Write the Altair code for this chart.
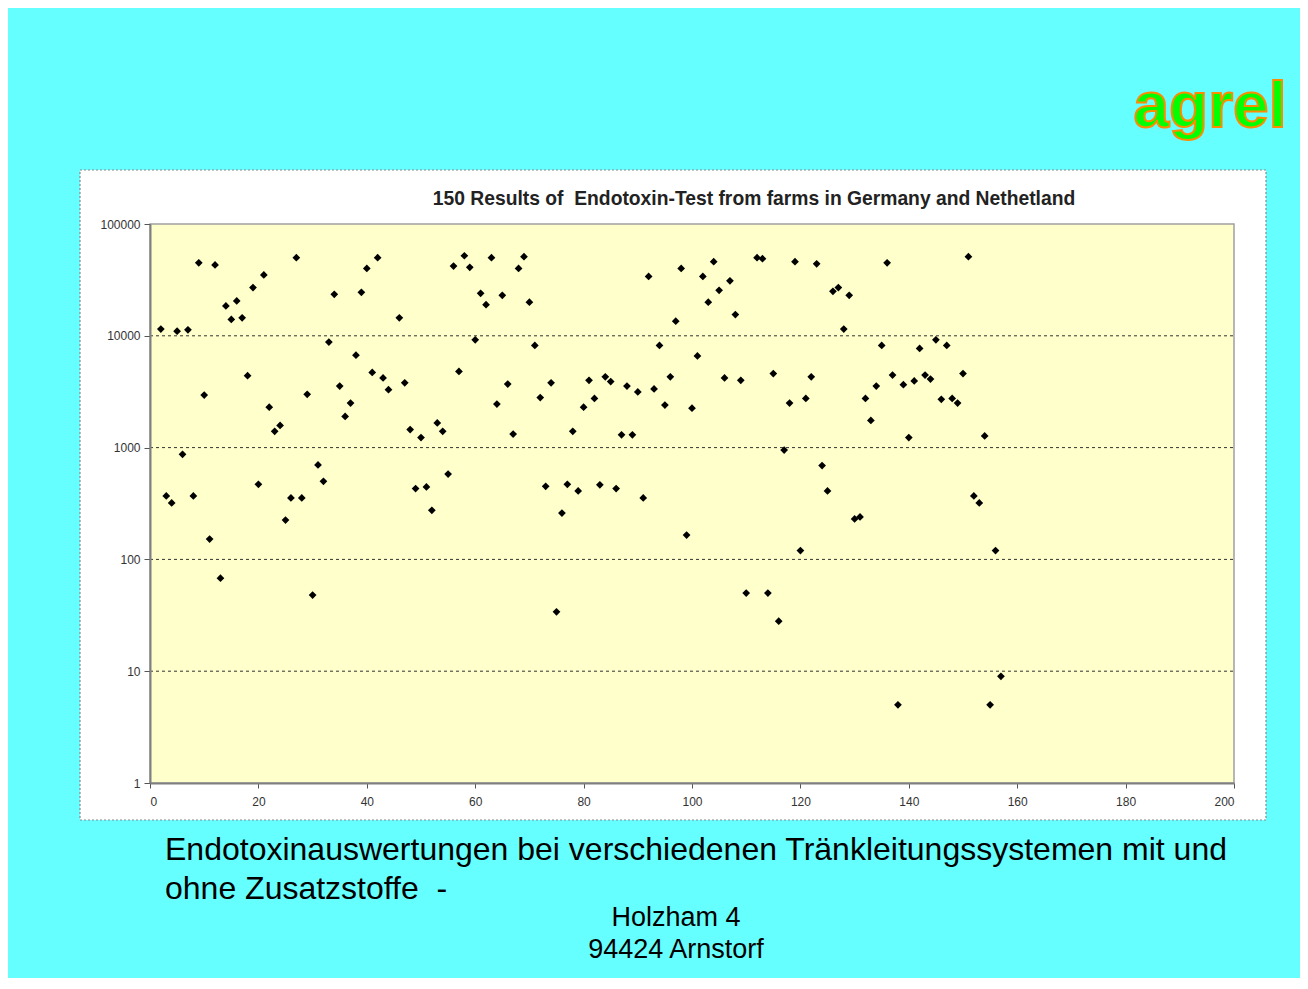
import altair as alt
import pandas as pd

# sample index (x) and endotoxin result (y, log scale)
sample_no = [2, 3, 4, 5, 6, 7, 8, 9, 10, 11, 12, 13, 14, 15, 16, 17, 18, 19, 20, 21,
             22, 23, 24, 25, 26, 27, 28, 29, 30, 31, 32, 33, 34, 35, 36, 37, 38, 39, 40, 41,
             42, 43, 44, 46, 47, 48, 49, 50, 51, 52, 53, 54, 55, 56, 57, 58, 59, 60, 61, 62,
             63, 64, 65, 66, 67, 68, 69, 70, 71, 72, 73, 74, 75, 76, 77, 78, 79, 80, 81, 82,
             83, 84, 85, 86, 87, 88, 89, 90, 91, 92, 93, 94, 95, 96, 97, 98, 99, 100, 101, 102,
             103, 104, 105, 106, 107, 108, 109, 110, 112, 113, 114, 115, 116, 117, 118, 119, 120, 121, 122, 123,
             124, 125, 126, 127, 128, 129, 130, 131, 132, 133, 134, 135, 136, 137, 138, 139, 140, 141, 142, 143,
             144, 145, 146, 147, 148, 149, 150, 151, 152, 153, 154, 155, 156, 157]
endotoxin = [11500, 370, 320, 11000, 870, 11300, 370, 45000, 2950, 152, 43000, 68, 18500, 14000, 20500, 14500, 4400, 27000, 470, 35000,
             2300, 1400, 1580, 225, 355, 50000, 355, 3000, 48, 700, 500, 8800, 23500, 3550, 1900, 2500, 6700, 24500, 40000, 4700,
             50000, 4200, 3300, 14500, 3800, 1450, 430, 1230, 445, 275, 1660, 1400, 580, 42000, 4800, 52000, 41000, 9200, 24000, 19000,
             50000, 2450, 23000, 3700, 1320, 40000, 51000, 20000, 8200, 2800, 450, 3800, 34, 260, 470, 1400, 410, 2300, 4000, 2750,
             465, 4300, 3900, 430, 1300, 3550, 1300, 3150, 355, 34000, 3350, 8200, 2400, 4300, 13500, 40000, 165, 2250, 6600, 34000,
             20000, 46000, 25500, 4200, 31000, 15500, 4000, 50, 50000, 49000, 50, 4600, 28, 950, 2500, 46000, 120, 2750, 4300, 44000,
             690, 410, 25000, 27000, 11500, 23000, 230, 240, 2750, 1750, 3550, 8200, 45000, 4450, 5, 3650, 1230, 3950, 7700, 4450,
             4100, 9200, 2700, 8200, 2750, 2500, 4600, 51000, 370, 320, 1270, 5, 120, 9]

grid_values = [10, 100, 1000, 10000]
y_ticks = [1, 10, 100, 1000, 10000, 100000]
x_ticks = [0, 20, 40, 60, 80, 100, 120, 140, 160, 180, 200]

chart_title = "150 Results of\u00a0 Endotoxin-Test from farms in Germany and Nethetland"
caption_1 = "Endotoxinauswertungen bei verschiedenen Tränkleitungssystemen mit und"
caption_2 = "ohne Zusatzstoffe\u00a0 -"
address_1 = "Holzham 4"
address_2 = "94424 Arnstorf"
logo = "agrel"

W, H = 1084, 559

df = pd.DataFrame({"n": sample_no, "v": endotoxin})
grid_df = pd.DataFrame({"g": grid_values})

xscale = alt.Scale(domain=[0, 200], nice=False, zero=False)
yscale = alt.Scale(type="log", domain=[1, 100000], nice=False)

x_axis = alt.Axis(values=x_ticks, title=None, grid=False, domainColor="#808080",
                  domainWidth=2, tickColor="#555555", tickSize=5, zindex=1,
                  labelFont="Liberation Sans", labelFontSize=12,
                  labelColor="#333333", labelPadding=8)
y_axis = alt.Axis(values=y_ticks, title=None, grid=False, format="d", zindex=1,
                  domainColor="#808080", domainWidth=2, tickColor="#555555",
                  tickSize=6, labelFont="Liberation Sans", labelFontSize=12,
                  labelColor="#333333", labelPadding=4)

one = pd.DataFrame({"k": [0]})

panel = alt.Chart(one).mark_rect(fill="white", stroke="#888888", strokeWidth=1.2,
                                  strokeDash=[2, 2]).encode(
    x=alt.value(-70), x2=alt.value(1116), y=alt.value(-54), y2=alt.value(596))

plot_bg = alt.Chart(one).mark_rect(fill="#FFFFCC", stroke="#A0A0A0", strokeWidth=1.5).encode(
    x=alt.value(0), x2=alt.value(W), y=alt.value(0), y2=alt.value(H))

grid = alt.Chart(grid_df).mark_rule(color="#333333", strokeDash=[3, 3], strokeWidth=1).encode(
    y=alt.Y("g:Q", scale=yscale, axis=y_axis),
    x=alt.value(0), x2=alt.value(W))

points = alt.Chart(df).mark_point(shape="diamond", filled=True, color="black",
                                  size=60, opacity=1).encode(
    x=alt.X("n:Q", scale=xscale, axis=x_axis),
    y=alt.Y("v:Q", scale=yscale, axis=y_axis))

def txt(s, x, y, size, align="left", weight="normal", color="black", font="Liberation Sans"):
    return alt.Chart(one).mark_text(text=s, align=align, baseline="middle", fontSize=size,
                                    fontWeight=weight, color=color, font=font).encode(
        x=alt.value(x), y=alt.value(y))

title = txt(chart_title, 604, -25, 19.3, align="center", weight="bold", color="#222222")
cap1 = txt(caption_1, 15, 626, 32)
cap2 = txt(caption_2, 15, 665, 32)
addr1 = txt(address_1, 526, 694, 27, align="center")
addr2 = txt(address_2, 526, 726, 27, align="center")

logo_mark = alt.Chart(one).mark_text(text=logo, align="center", baseline="alphabetic",
                                     fontSize=64, fontWeight="bold", color="#00FF00",
                                     stroke="#FF8C00", strokeWidth=2,
                                     font="Liberation Sans").encode(
    x=alt.value(1060), y=alt.value(-97))

chart = alt.layer(panel, plot_bg, grid, points, title, cap1, cap2, addr1, addr2, logo_mark).properties(
    width=W, height=H,
    autosize=alt.AutoSizeParams(type="none"),
    padding={"left": 142, "top": 216, "right": 66, "bottom": 195},
    background="#66FFFF",
).configure_view(stroke=None)

chart.save("out.html", embed_options={"renderer": "svg", "actions": False})
